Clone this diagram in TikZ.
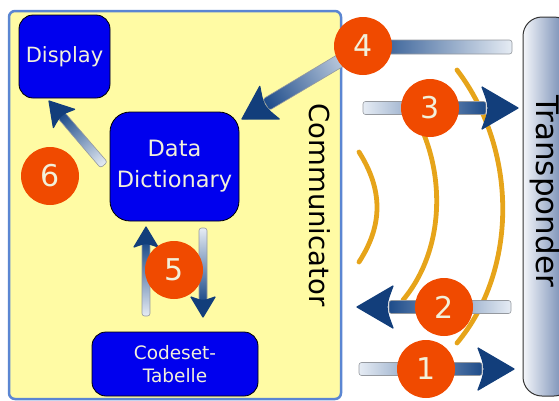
\documentclass[tikz,border=0pt]{standalone}
\usepackage{fontspec}
\setmainfont{DejaVu Sans}

\definecolor{commfill}{HTML}{FFFBA4}
\definecolor{commline}{HTML}{5B86D2}
\definecolor{boxblue}{HTML}{0000EE}
\definecolor{boxtext}{HTML}{F2F0DA}
\definecolor{badgefill}{HTML}{F04A00}
\definecolor{wave}{HTML}{E6A41A}
\definecolor{barlight}{HTML}{E6ECF4}
\definecolor{bardark}{HTML}{1E4C8A}
\definecolor{headblue}{HTML}{123E7B}
\definecolor{tplight}{HTML}{F4F6FA}
\definecolor{tpdark}{HTML}{5874A4}

\tikzset{
  unitbox/.style={draw=black, line width=0.8, fill=boxblue, text=boxtext,
    align=center, inner sep=0},
  badge/.style={circle, fill=badgefill, minimum size=58, inner sep=0,
    text=boxtext, font=\fontsize{30}{30}\selectfont},
  waveline/.style={draw=wave, line width=4.8, line cap=round},
  flowshaft/.style={draw=black!35!barlight, line width=0.6, rounded corners=2.5,
    left color=barlight, right color=bardark},
  flowtip/.style={fill=headblue, draw=headblue, line width=1.2, line join=round},
}

% Shaded arrow from a light tail (#1) to a tip (#2):
% #3 shaft half width, #4 head length (0 = no head), #5 head half width
\newcommand\flowarrow[5]{%
  \pgfmathanglebetweenpoints{\pgfpointanchor{#1}{center}}{\pgfpointanchor{#2}{center}}%
  \let\flowang\pgfmathresult
  \pgfpointdiff{\pgfpointanchor{#1}{center}}{\pgfpointanchor{#2}{center}}%
  \pgfgetlastxy{\flowdx}{\flowdy}%
  \pgfmathsetmacro\flowlen{veclen(\flowdx,\flowdy)}%
  \pgfmathsetmacro\flowend{#4>0 ? \flowlen-#4+4 : \flowlen}%
  \pgfmathsetmacro\flowbase{\flowlen-#4}%
  \begin{scope}[transform canvas={shift={(#1)},rotate=\flowang}]
    \path[flowshaft] (0,-#3) rectangle (\flowend,#3);
    \ifdim #4pt>0pt
      \path[flowtip] (\flowlen,0) -- (\flowbase,-#5)
        .. controls ({\flowbase+0.22*#4},0) .. (\flowbase,#5) -- cycle;
    \fi
  \end{scope}}

\begin{document}
\begin{tikzpicture}[x=1pt, y=-1pt]
  \useasboundingbox (0,0) rectangle (559,400);
  \clip (0,0) rectangle (559,400);

  % communicator housing and the transponder
  \node[draw=commline, line width=2.5, fill=commfill, rounded corners=6,
    minimum width=332, minimum height=388, inner sep=0] (comm) at (175,205) {};
  \node[rotate=-90, font=\fontsize{27.5}{27.5}\selectfont] (commlabel) at (320,205) {Communicator};
  \node[draw=black!80, line width=1, rounded corners=19, left color=tplight,
    right color=tpdark, minimum width=50, minimum height=379, inner sep=0] (tp) at (548,206.5) {};
  \node[rotate=-90, font=\fontsize{31}{31}\selectfont] (tplabel) at (545,191) {Transponder};

  % function blocks
  \node[unitbox, rounded corners=14, minimum width=91, minimum height=83,
    font=\fontsize{21}{24}\selectfont] (disp) at (64.5,56.5) {Display};
  \node[unitbox, rounded corners=20, minimum width=129, minimum height=109,
    font=\fontsize{22.5}{31}\selectfont] (dd) at (174.5,166.5) {Data\\Dictionary};
  \node[unitbox, rounded corners=14, minimum width=166, minimum height=64,
    font=\fontsize{18.5}{22.5}\selectfont] (cs) at (175,364) {Codeset-\\Tabelle};

  % radio field between the two devices
  \path[waveline] (359,152) .. controls (383,190) and (383,225) .. (359,262);
  \path[waveline] (413,112) .. controls (447,170) and (445,250) .. (403,300);
  \path[waveline] (457,70) .. controls (518,150) and (518,270) .. (457,343);

  % arrow end points
  \coordinate (t1) at (359,369);  \coordinate (h1) at (514,369);
  \coordinate (t2) at (511,307);  \coordinate (h2) at (357,307);
  \coordinate (t3) at (363,108);  \coordinate (h3) at (518,108);
  \coordinate (t4) at (512,47);   \coordinate (k4) at (363,47);
  \coordinate (h4) at (242,119);
  \coordinate (t5u) at (146,316); \coordinate (h5u) at (146,227);
  \coordinate (t5d) at (203,228); \coordinate (h5d) at (203,317);
  \coordinate (t6) at (104,165);  \coordinate (h6) at (49,101);

  \flowarrow{t1}{h1}{6.5}{36}{21}
  \flowarrow{t2}{h2}{6.5}{36}{21}
  \flowarrow{t3}{h3}{6.5}{36}{21}
  \flowarrow{t4}{k4}{7}{0}{0}
  \flowarrow{k4}{h4}{6.5}{32}{19}
  \flowarrow{t5u}{h5u}{4}{20}{12}
  \flowarrow{t5d}{h5d}{4}{20}{12}
  \flowarrow{t6}{h6}{4.5}{23}{14}

  % step numbers
  \node[badge] (n1) at (426,369) {1};
  \node[badge] (n2) at (444,307) {2};
  \node[badge] (n3) at (430,108) {3};
  \node[badge] (n4) at (363,46) {4};
  \node[badge] (n5) at (174,270) {5};
  \node[badge] (n6) at (50,176) {6};
\end{tikzpicture}
\end{document}
